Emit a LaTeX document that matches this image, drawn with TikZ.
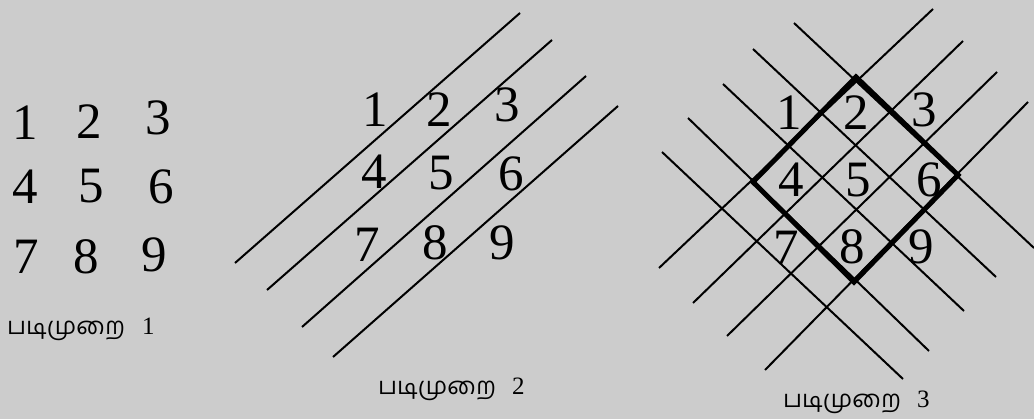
\documentclass[tikz,border=0pt]{standalone}
\usepackage{fontspec}
\setmainfont{Liberation Serif}
\newfontfamily\tamil[Script=Tamil]{Hind Madurai}
\definecolor{bg}{RGB}{204,204,204}

\begin{document}
\begin{tikzpicture}[x=1pt,y=-1pt,
  num/.style={inner sep=0pt,font=\fontsize{51}{51}\selectfont},
  capt/.style={inner sep=0pt,anchor=base west,font=\tamil\fontsize{24}{24}\selectfont},
  capn/.style={inner sep=0pt,anchor=base west,font=\fontsize{25}{25}\selectfont},
  gline/.style={line width=2pt},
  bline/.style={line width=5pt,line join=miter}]
  \fill[bg] (0,0) rectangle (1034,419);
  \useasboundingbox (0,0) rectangle (1034,419);

  %% padimurai 1
  \node[num] at (25,123) (a1) {1};
  \node[num] at (89,122) (a2) {2};
  \node[num] at (158,118) (a3) {3};
  \node[num] at (25,187) (a4) {4};
  \node[num] at (91,186) (a5) {5};
  \node[num] at (161,187) (a6) {6};
  \node[num] at (26,257) (a7) {7};
  \node[num] at (86,257) (a8) {8};
  \node[num] at (154,255) (a9) {9};
  \node[capt] at (7,335) (capA) {படிமுறை};
  \node[capn] at (142,335) (numA) {1};

  %% padimurai 2
  \draw[gline] (235,263) -- (520,13);
  \draw[gline] (267,290) -- (552,40);
  \draw[gline] (302,327) -- (586,76);
  \draw[gline] (333,357) -- (618,106);
  \node[num] at (375,110) (b1) {1};
  \node[num] at (439,110) (b2) {2};
  \node[num] at (507,105) (b3) {3};
  \node[num] at (374,172) (b4) {4};
  \node[num] at (441,173) (b5) {5};
  \node[num] at (511,174) (b6) {6};
  \node[num] at (367,245) (b7) {7};
  \node[num] at (435,243) (b8) {8};
  \node[num] at (502,243) (b9) {9};
  \node[capt] at (378,395) (capB) {படிமுறை};
  \node[capn] at (512,395) (numB) {2};

  %% padimurai 3
  \draw[gline] (659,268) -- (933,9);
  \draw[gline] (693,303) -- (963,41);
  \draw[gline] (727,336) -- (997,72);
  \draw[gline] (765,370) -- (1028,102);
  \draw[gline] (794,23) -- (1034,248);
  \draw[gline] (753,49) -- (996,277);
  \draw[gline] (723,84) -- (964,311);
  \draw[gline] (688,118) -- (929,351);
  \draw[gline] (662,152) -- (903,379);
  \draw[bline] (856,77) -- (958,175) -- (854,282) -- (753,182) -- cycle;
  \node[num] at (789,113) (c1) {1};
  \node[num] at (856,113) (c2) {2};
  \node[num] at (924,110) (c3) {3};
  \node[num] at (791,180) (c4) {4};
  \node[num] at (858,180) (c5) {5};
  \node[num] at (929,180) (c6) {6};
  \node[num] at (786,248) (c7) {7};
  \node[num] at (852,247) (c8) {8};
  \node[num] at (921,247) (c9) {9};
  \node[capt] at (783,408) (capC) {படிமுறை};
  \node[capn] at (917,408) (numC) {3};
\end{tikzpicture}
\end{document}
